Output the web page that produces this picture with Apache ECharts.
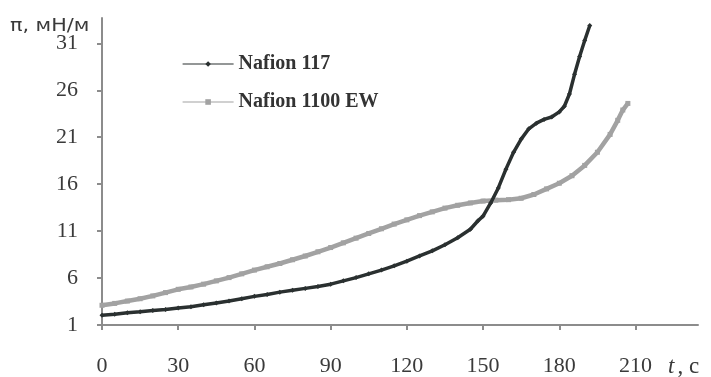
<!DOCTYPE html>
<html>
<head>
<meta charset="utf-8">
<script src="https://cdn.jsdelivr.net/npm/echarts@6/dist/echarts.min.js"></script>
<style>html,body{margin:0;padding:0;background:#fff;}#c{width:711px;height:377px;}</style>
</head>
<body>
<div id="c"></div>
<script>
// ---- data ----
const seriesNames = ['Nafion 117', 'Nafion 1100 EW'];
const xTicks = [0, 30, 60, 90, 120, 150, 180, 210];
const yTicks = [1, 6, 11, 16, 21, 26, 31];

const t117 = [0, 5, 10, 15, 20, 25, 30, 35, 40, 45, 50, 55, 60, 65, 70, 75, 80, 85, 90, 95, 100, 105, 110, 115, 120, 125, 130, 135, 140, 145, 148, 150, 153, 156, 159, 162, 165, 168, 171, 174, 177, 180, 182, 184, 186, 188, 190, 192];
const pi117 = [2.05, 2.15, 2.3, 2.4, 2.55, 2.65, 2.8, 2.95, 3.15, 3.35, 3.55, 3.8, 4.05, 4.25, 4.5, 4.7, 4.9, 5.1, 5.35, 5.7, 6.05, 6.45, 6.85, 7.3, 7.8, 8.35, 8.9, 9.55, 10.3, 11.2, 12.1, 12.6, 14.0, 15.6, 17.6, 19.4, 20.8, 21.9, 22.5, 22.9, 23.15, 23.7, 24.3, 25.6, 27.7, 29.6, 31.3, 32.9];

const t1100 = [0, 5, 10, 15, 20, 25, 30, 35, 40, 45, 50, 55, 60, 65, 70, 75, 80, 85, 90, 95, 100, 105, 110, 115, 120, 125, 130, 135, 140, 145, 150, 155, 160, 165, 170, 175, 180, 185, 190, 195, 200, 203, 205, 207];
const pi1100 = [3.1, 3.3, 3.55, 3.8, 4.1, 4.45, 4.8, 5.05, 5.35, 5.7, 6.05, 6.45, 6.85, 7.2, 7.55, 7.95, 8.35, 8.8, 9.25, 9.75, 10.25, 10.75, 11.25, 11.75, 12.2, 12.65, 13.05, 13.45, 13.75, 14.0, 14.2, 14.3, 14.35, 14.5, 14.9, 15.5, 16.1, 16.9, 18.0, 19.4, 21.3, 22.8, 23.9, 24.6];

const zip = (a, b) => a.map((v, i) => [v, b[i]]);

const chart = echarts.init(document.getElementById('c'), null, {renderer: 'canvas'});
const axisColor = '#8c8c8c';
const labelFont = {fontFamily: 'Liberation Serif', fontSize: 22, color: '#3a3a3a'};

chart.setOption({
  animation: false,
  backgroundColor: '#ffffff',
  grid: {left: 102, right: 13, top: 18, bottom: 49, containLabel: false},
  xAxis: {
    type: 'value', min: 0, max: 234.6, interval: 30,
    axisLine: {show: true, lineStyle: {color: axisColor, width: 2}},
    axisTick: {show: true, length: 5, lineStyle: {color: axisColor, width: 2}, customValues: xTicks},
    axisLabel: Object.assign({margin: 30, customValues: xTicks}, labelFont),
    splitLine: {show: false}
  },
  yAxis: {
    type: 'value', min: 1, max: 33.7, interval: 5,
    axisLine: {show: true, onZero: false, lineStyle: {color: axisColor, width: 2}},
    axisTick: {show: true, length: 5, lineStyle: {color: axisColor, width: 2}, customValues: yTicks},
    axisLabel: Object.assign({margin: 24, customValues: yTicks}, labelFont),
    splitLine: {show: false}
  },
  legend: {
    orient: 'vertical', left: 177, top: 49, itemGap: 18,
    itemWidth: 51, itemHeight: 7,
    textStyle: {fontFamily: 'Liberation Serif', fontWeight: 'bold', fontSize: 20, color: '#333'},
    data: [
      {name: seriesNames[0], lineStyle: {width: 1.2}},
      {name: seriesNames[1], lineStyle: {width: 1.2}}
    ]
  },
  series: [
    {
      name: seriesNames[0], type: 'line', data: zip(t117, pi117),
      symbol: 'diamond', symbolSize: 5, showSymbol: true,
      lineStyle: {color: '#2a3030', width: 3.5},
      itemStyle: {color: '#2a3030'},
      z: 3
    },
    {
      name: seriesNames[1], type: 'line', data: zip(t1100, pi1100),
      symbol: 'rect', symbolSize: 5, showSymbol: true,
      lineStyle: {color: '#a2a2a2', width: 4.5},
      itemStyle: {color: '#a2a2a2'},
      z: 2
    }
  ],
  graphic: [
    {type: 'text', x: 10, y: 26, scaleX: 1.15,
     style: {text: 'π, мН/м', font: '18px "DejaVu Sans"', fill: '#3a3a3a', verticalAlign: 'middle', align: 'left'}},
    {type: 'text', x: 668, y: 367,
     style: {text: '{i|t}, с', fontFamily: 'Liberation Serif', fontSize: 23, fill: '#3a3a3a', verticalAlign: 'middle', align: 'left',
             rich: {i: {fontStyle: 'italic', fontFamily: 'Liberation Serif', fontSize: 23, fill: '#3a3a3a', padding: [0, 3, 0, 0]}}}}
  ]
});
</script>
</body>
</html>
